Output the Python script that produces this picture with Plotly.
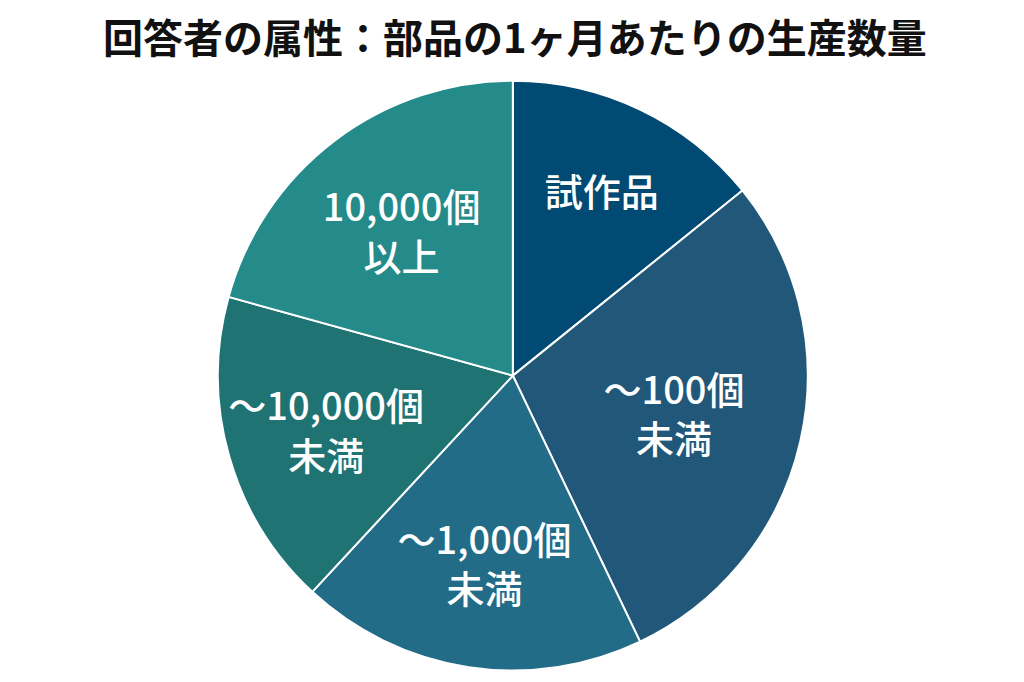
import plotly.graph_objects as go

# 部品の1ヶ月あたりの生産数量 (割合, %)
categories = ["試作品", "～100個<br>未満", "～1,000個<br>未満", "～10,000個<br>未満", "10,000個<br>以上"]
shares = [14.2, 28.7, 19.0, 17.4, 20.7]
colors = ["#004a73", "#215879", "#226c87", "#1f7373", "#248a8a"]

title_text = "回答者の属性：部品の1ヶ月あたりの生産数量"

fig = go.Figure(
    go.Pie(
        labels=categories,
        values=shares,
        text=categories,
        textinfo="text",
        hoverinfo="label+percent",
        sort=False,
        direction="clockwise",
        rotation=0,
        marker=dict(colors=colors, line=dict(color="white", width=2)),
        textposition="inside",
        insidetextorientation="horizontal",
        textfont=dict(family="Noto Sans CJK JP", size=38, color="white", weight=500),
        domain=dict(x=[0.205, 0.781], y=[0.028, 0.894]),
        showlegend=False,
    )
)

fig.update_layout(
    width=1024,
    height=682,
    margin=dict(l=0, r=0, t=0, b=0),
    paper_bgcolor="white",
    plot_bgcolor="white",
    uniformtext=dict(minsize=38, mode="show"),
    title=dict(
        text="<b>" + title_text + "</b>",
        x=0.495,
        xanchor="center",
        y=0.955,
        yanchor="middle",
        font=dict(family="Noto Sans CJK JP", size=40, color="#111111"),
    ),
)

fig.write_html("out.html")
